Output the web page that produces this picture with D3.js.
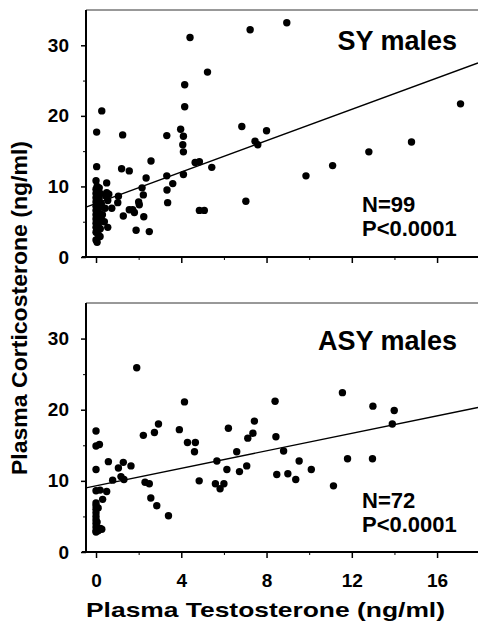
<!DOCTYPE html>
<html>
<head>
<meta charset="utf-8">
<script src="https://cdn.jsdelivr.net/npm/d3@7"></script>
<style>
  body { margin: 0; background: #fff; }
  svg text { font-family: "Liberation Sans", Arial, Helvetica, sans-serif; font-weight: bold; fill: #000; }
</style>
</head>
<body>
<div id="chart"></div>
<script>
// SY males: [testosterone, corticosterone] in ng/ml
const syPoints = [
  [0.27, 20.7], [0.03, 17.7], [0.03, 12.8], [0.0, 10.8], [0.05, 10.0], [0.0, 9.6], [0.1, 9.3], [0.0, 9.0],
  [0.05, 8.7], [0.0, 8.4], [0.1, 8.1], [0.0, 7.8], [0.05, 7.5], [0.0, 7.2], [0.1, 6.9], [0.0, 6.6],
  [0.05, 6.3], [0.0, 6.0], [0.1, 5.7], [0.0, 5.4], [0.05, 5.1], [0.0, 4.8], [0.1, 4.5], [0.0, 4.2],
  [0.05, 3.8], [0.0, 3.5], [0.19, 2.9], [0.0, 2.4], [0.05, 2.1], [0.23, 5.5], [0.39, 5.0], [0.55, 4.2],
  [0.5, 10.5], [0.5, 9.1], [0.47, 8.6], [0.55, 8.0], [0.42, 6.9], [0.74, 6.9], [1.05, 8.6], [1.02, 7.7],
  [1.2, 12.5], [1.25, 17.3], [1.56, 12.2], [2.58, 13.6], [2.35, 11.2], [2.16, 9.8], [2.22, 8.8], [2.0, 7.8],
  [2.03, 7.4], [1.56, 6.7], [1.72, 6.7], [1.8, 6.3], [1.28, 5.8], [2.24, 5.7], [1.88, 3.8], [2.5, 3.6],
  [3.32, 17.2], [3.32, 11.5], [3.6, 10.4], [3.33, 9.5], [3.36, 7.7], [3.97, 18.1], [4.1, 17.1], [4.07, 15.9],
  [4.1, 14.9], [4.1, 11.7], [4.16, 21.3], [4.16, 24.4], [4.41, 31.1], [5.23, 26.2], [4.65, 13.4], [4.85, 13.5],
  [5.43, 12.7], [4.85, 6.6], [5.08, 6.6], [6.84, 18.5], [7.03, 7.9], [7.23, 32.2], [7.46, 16.4], [7.59, 15.9],
  [8.0, 17.9], [8.95, 33.2], [9.85, 11.5], [11.1, 12.95], [12.8, 14.9], [14.8, 16.3], [17.1, 21.7],
  [0.15, 9.8], [0.15, 8.5], [0.15, 7.0], [0.15, 6.2], [0.15, 5.0], [0.2, 4.0], [0.15, 8.0], [0.25, 7.5],
  [0.2, 9.0], [0.1, 3.2], [0.3, 6.0], [0.6, 8.9]
];

// ASY males
const asyPoints = [
  [1.91, 25.9], [0.0, 17.0], [0.0, 14.9], [0.16, 15.1], [0.0, 11.6], [0.58, 12.7], [1.05, 11.8], [1.28, 12.6],
  [1.64, 12.1], [1.17, 10.6], [1.31, 10.2], [0.78, 10.1], [0.0, 8.6], [0.19, 8.7], [0.5, 8.5], [0.31, 7.4],
  [0.0, 6.9], [0.0, 6.5], [0.0, 6.0], [0.0, 5.5], [0.0, 5.0], [0.0, 4.5], [0.0, 4.0], [0.0, 3.5],
  [0.0, 3.0], [0.0, 2.8], [0.2, 3.3], [0.27, 3.2], [2.22, 16.4], [2.74, 16.8], [2.93, 18.0], [2.3, 9.8],
  [2.5, 9.6], [2.57, 7.6], [2.85, 6.5], [3.4, 5.1], [3.91, 17.2], [4.15, 21.1], [4.29, 15.4], [4.66, 15.4],
  [4.62, 14.1], [4.84, 10.0], [5.67, 12.8], [5.6, 9.6], [5.82, 8.9], [6.0, 9.6], [6.14, 11.6], [6.21, 17.4],
  [6.6, 14.1], [6.73, 11.3], [7.07, 12.1], [7.12, 16.0], [7.36, 16.7], [7.43, 18.4], [8.4, 21.2], [8.44, 16.2],
  [8.8, 14.2], [8.48, 10.9], [9.0, 11.0], [9.53, 12.8], [9.37, 10.2], [10.1, 11.6], [11.14, 9.3], [11.56, 22.4],
  [11.8, 13.1], [12.99, 20.5], [12.97, 13.1], [13.99, 19.9], [13.9, 18.0], [0.1, 6.2], [0.05, 4.2], [0.1, 3.0]
];

// regression lines as drawn: [intercept, slope]
const syFit = [7.6, 1.11];
const asyFit = [9.3, 0.615];

const xTicks = [0, 4, 8, 12, 16];
const xMinorTicks = [2, 6, 10, 14];
const yTicks = [0, 10, 20, 30];
const yMinorTicks = [5, 15, 25];
const groupLabels = ["SY males", "ASY males"];
const sampleSizes = ["N=99", "N=72"];
const pValues = ["P<0.0001", "P<0.0001"];

const width = 478;
const height = 633;

const svg = d3.select("#chart")
  .append("svg")
  .attr("width", width)
  .attr("height", height);

const xScale = d3.scaleLinear()
  .domain([-0.47, 17.92])
  .range([86, width]);

function drawPanel(points, fit, idx, top, bottom, showLabels, labelY, statsY) {
  const yScale = d3.scaleLinear()
    .domain([0, 35])
    .range([bottom, top]);

  const g = svg.append("g");

  // thin frame line on top
  g.append("line")
    .attr("x1", xScale.range()[0])
    .attr("x2", width)
    .attr("y1", top)
    .attr("y2", top)
    .attr("stroke", "#333")
    .attr("stroke-width", 1);

  // regression line
  const x0 = xScale.domain()[0], x1 = xScale.domain()[1];
  g.append("line")
    .attr("x1", xScale(x0))
    .attr("y1", yScale(fit[0] + fit[1] * x0))
    .attr("x2", xScale(x1))
    .attr("y2", yScale(fit[0] + fit[1] * x1))
    .attr("stroke", "#000")
    .attr("stroke-width", 1.4);

  // dots
  g.selectAll("circle")
    .data(points)
    .enter()
    .append("circle")
    .attr("cx", d => xScale(d[0]))
    .attr("cy", d => yScale(d[1]))
    .attr("r", 3.7)
    .attr("fill", "#000");

  // x axis
  const xAxis = g.append("g")
    .attr("transform", `translate(0,${bottom})`)
    .call(d3.axisBottom(xScale)
      .tickValues(xTicks)
      .tickSize(6)
      .tickPadding(16)
      .tickFormat(showLabels ? d3.format("d") : ""));

  g.append("g")
    .attr("transform", `translate(0,${bottom})`)
    .call(d3.axisBottom(xScale).tickValues(xMinorTicks).tickSize(3).tickFormat(""))
    .call(a => a.select(".domain").remove());

  // y axis
  const yAxis = g.append("g")
    .attr("transform", `translate(${xScale.range()[0]},0)`)
    .call(d3.axisLeft(yScale)
      .tickValues(yTicks)
      .tickSize(5)
      .tickPadding(12));

  g.append("g")
    .attr("transform", `translate(${xScale.range()[0]},0)`)
    .call(d3.axisLeft(yScale).tickValues(yMinorTicks).tickSize(3).tickFormat(""))
    .call(a => a.select(".domain").remove());

  [xAxis, yAxis].forEach(a => {
    a.select(".domain").attr("stroke", "#000").attr("stroke-width", 2);
    a.selectAll(".tick line").attr("stroke", "#000").attr("stroke-width", 1.5);
    a.selectAll("text")
      .style("font-size", "19px")
      .style("font-family", "'Liberation Sans', Arial, sans-serif")
      .style("font-weight", "bold")
      .attr("fill", "#000");
  });
  xAxis.select(".domain").attr("d", `M${xScale.range()[0] - 4},0H${width}`);
  yAxis.select(".domain").attr("d", `M0,${top}V${bottom + 1}`);

  // annotations
  g.append("text")
    .attr("x", 457)
    .attr("y", labelY)
    .style("text-anchor", "end")
    .style("font-size", "27px")
    .text(groupLabels[idx]);

  g.append("text")
    .attr("x", 362)
    .attr("y", statsY)
    .style("font-size", "22px")
    .text(sampleSizes[idx]);

  g.append("text")
    .attr("x", 362)
    .attr("y", statsY + 24)
    .style("font-size", "22px")
    .text(pValues[idx]);
}

drawPanel(syPoints, syFit, 0, 10, 257, false, 50, 212);
drawPanel(asyPoints, asyFit, 1, 303, 552, true, 350, 508);

// axis titles
svg.append("text")
  .attr("x", 86)
  .attr("y", 617)
  .attr("textLength", 359)
  .attr("lengthAdjust", "spacingAndGlyphs")
  .style("font-size", "21px")
  .text("Plasma Testosterone (ng/ml)");

svg.append("text")
  .attr("transform", "translate(27,475) rotate(-90)")
  .attr("textLength", 334)
  .attr("lengthAdjust", "spacingAndGlyphs")
  .style("font-size", "22px")
  .text("Plasma Corticosterone (ng/ml)");
</script>
</body>
</html>
